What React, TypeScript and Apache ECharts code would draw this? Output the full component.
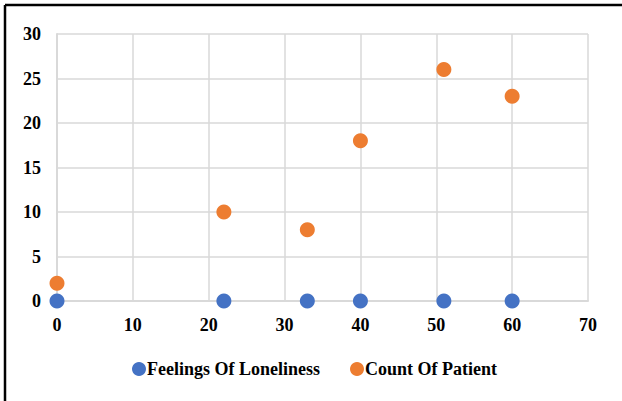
import React, { useEffect, useRef } from "react";
import * as echarts from "echarts";

const xValues = [0, 22, 33, 40, 51, 60];
const lonelinessValues = [0, 0, 0, 0, 0, 0];
const patientValues = [2, 10, 8, 18, 26, 23];
const seriesNames = ["Feelings Of Loneliness", "Count Of Patient"];

const FONT = '"Liberation Serif", "Times New Roman", serif';

export default function App() {
  const ref = useRef<HTMLDivElement>(null);
  useEffect(() => {
    if (!ref.current) return;
    const chart = echarts.init(ref.current, undefined, { renderer: "svg" });
    const textStyle = { fontFamily: FONT, fontWeight: "bold" as const, fontSize: 18, color: "#000" };
    chart.setOption({
      animation: false,
      backgroundColor: "#fff",
      grid: { left: 57, right: 34, top: 34, bottom: 100 },
      xAxis: {
        type: "value",
        min: 0,
        max: 70,
        interval: 10,
        axisLine: { show: true, lineStyle: { color: "#d9d9d9", width: 2 } },
        axisTick: { show: false },
        axisLabel: { ...textStyle, margin: 15 },
        splitLine: { show: true, lineStyle: { color: "#d9d9d9", width: 1.5 } },
      },
      yAxis: {
        type: "value",
        min: 0,
        max: 30,
        interval: 5,
        axisLine: { show: true, lineStyle: { color: "#d9d9d9", width: 2 } },
        axisTick: { show: false },
        axisLabel: { ...textStyle, margin: 16 },
        splitLine: { show: true, lineStyle: { color: "#d9d9d9", width: 1.5 } },
      },
      legend: {
        left: 127,
        top: 355,
        itemWidth: 14,
        itemHeight: 14,
        itemGap: 30,
        icon: "circle",
        textStyle: { ...textStyle, padding: [0, 0, 0, -4] },
        data: seriesNames,
      },
      graphic: [
        { type: "line", shape: { x1: 5, y1: 5, x2: 622, y2: 5 }, style: { stroke: "#000", lineWidth: 2.5 } },
        { type: "line", shape: { x1: 5, y1: 5, x2: 5, y2: 401 }, style: { stroke: "#000", lineWidth: 2.5 } },
      ],
      series: [
        {
          name: seriesNames[0],
          type: "scatter",
          symbolSize: 15,
          itemStyle: { color: "#4472C4", opacity: 1 },
          data: xValues.map((x, i) => [x, lonelinessValues[i]]),
          z: 3,
        },
        {
          name: seriesNames[1],
          type: "scatter",
          symbolSize: 15,
          itemStyle: { color: "#ED7D31", opacity: 1 },
          data: xValues.map((x, i) => [x, patientValues[i]]),
          z: 2,
        },
      ],
    });
    return () => chart.dispose();
  }, []);
  return (
    <div
      ref={ref}
      style={{ position: "fixed", left: 0, top: 0, width: 622, height: 401, background: "#fff" }}
    />
  );
}
